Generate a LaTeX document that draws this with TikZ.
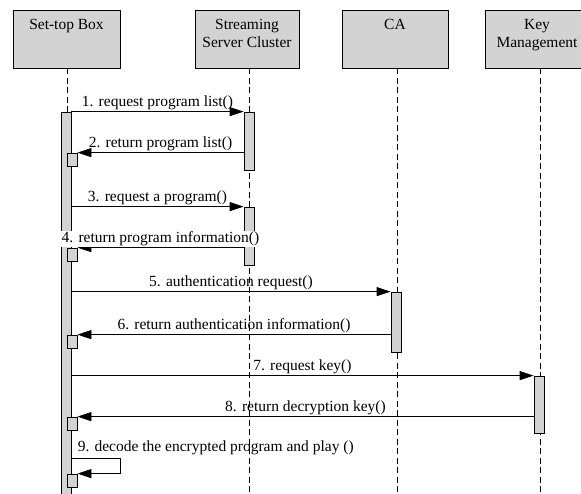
\documentclass[tikz,border=0pt]{standalone}
\usepackage{fontspec}
\setmainfont{Liberation Serif}
\usetikzlibrary{arrows.meta}
\definecolor{boxgray}{RGB}{211,211,211}
\begin{document}
\begin{tikzpicture}[x=1pt,y=-1pt,
  hdr/.style={draw=black, fill=boxgray, line width=0.8pt, inner sep=0pt, minimum height=58pt},
  htext/.style={font=\fontsize{15.5}{17.5}\selectfont, align=center, inner sep=0pt, anchor=base},
  act/.style={draw=black, fill=boxgray, line width=0.8pt, inner sep=0pt, minimum width=10pt},
  nest/.style={act, minimum height=13pt},
  life/.style={draw=black, line width=0.8pt, dash pattern=on 6pt off 3.5pt},
  msg/.style={draw=black, line width=0.8pt, -{Triangle[length=14pt,width=9pt]}},
  mlab/.style={font=\fontsize{15.5}{17.5}\selectfont, inner sep=0pt, anchor=base, yshift=5pt}]
\useasboundingbox (0,0) rectangle (581,493);

% lifelines
\coordinate (l1t) at (67,68);  \coordinate (l1b) at (67,493);
\coordinate (l2t) at (249,68); \coordinate (l2b) at (249,493);
\coordinate (l3t) at (397,68); \coordinate (l3b) at (397,493);
\coordinate (l4t) at (540,68); \coordinate (l4b) at (540,493);
\draw[life] (l1t) -- (l1b);
\draw[life] (l2t) -- (l2b);
\draw[life] (l3t) -- (l3b);
\draw[life] (l4t) -- (l4b);

% header boxes
\node[hdr, minimum width=107pt] (h1) at (66.5,39) {};
\node[hdr, minimum width=104pt] (h2) at (247,39) {};
\node[hdr, minimum width=106pt] (h3) at (395,39) {};
\node[hdr, minimum width=110pt] (h4) at (540,39) {};
\node[htext] (t1) at (66.5,29.5) {Set-top Box};
\node[htext] (t2) at (247,47) {Streaming\\Server Cluster};
\node[htext] (t3) at (395,29.5) {CA};
\node[htext] (t4) at (537,47) {Key\\Management};

% activation bars
\node[act, minimum height=390pt] (a1) at (66,307) {};
\node[act, minimum height=58pt] (s1) at (249,141) {};
\node[act, minimum height=58pt] (s2) at (249,236) {};
\node[act, minimum height=60pt] (c1) at (396,322) {};
\node[act, minimum height=57pt] (k1) at (539,404.5) {};
\node[nest] (n1) at (72,159.5) {};
\node[nest] (n2) at (72,254.5) {};
\node[nest] (n3) at (72,341.5) {};
\node[nest] (n4) at (72,423.5) {};
\node[nest] (n5) at (72,480.5) {};
\coordinate (lp) at (120,458);

% messages
\draw[msg] (a1.east |- s1.north) -- node[mlab] (m1) {1. request program list()} (s1.north west);
\draw[msg] (s1.west |- n1.north) -- node[mlab] (m2) {2. return program list()} (n1.north east);
\draw[msg] (a1.east |- s2.north) -- node[mlab] (m3) {3. request a program()} (s2.north west);
\draw[msg] (s2.west |- n2.north) -- node[mlab, fill=white, inner sep=1pt] (m4) {4. return program information()} (n2.north east);
\draw[msg] (a1.east |- c1.north) -- node[mlab] (m5) {5. authentication request()} (c1.north west);
\draw[msg] (c1.west |- n3.north) -- node[mlab] (m6) {6. return authentication information()} (n3.north east);
\draw[msg] (a1.east |- k1.north) -- node[mlab] (m7) {7. request key()} (k1.north west);
\draw[msg] (k1.west |- n4.north) -- node[mlab] (m8) {8. return decryption key()} (n4.north east);
\draw[msg] (a1.east |- lp) -- node[mlab, pos=0, anchor=base west, xshift=6pt, yshift=2pt] (m9) {9. decode the encrypted program and play ()} (lp) |- (n5.north east);
\end{tikzpicture}
\end{document}
